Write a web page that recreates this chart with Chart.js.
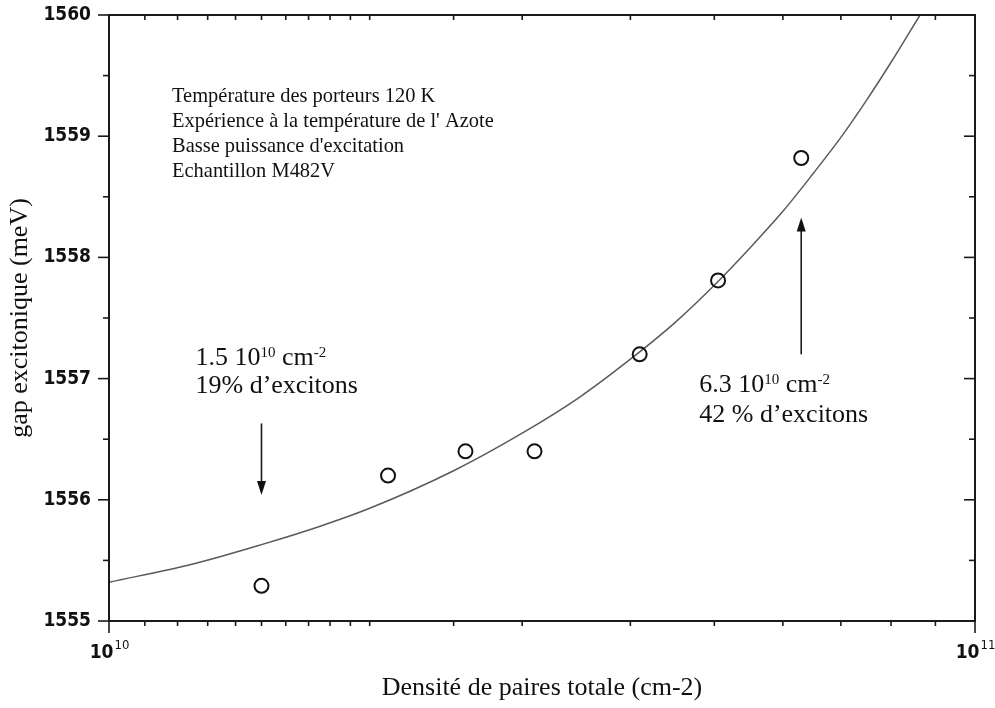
<!DOCTYPE html>
<html>
<head>
<meta charset="utf-8">
<script src="https://cdn.jsdelivr.net/npm/chart.js@4.4.1/dist/chart.umd.min.js"></script>
<style>
  html, body { margin: 0; padding: 0; background: #fff; }
</style>
</head>
<body>
<canvas id="gapChart" width="995" height="708"></canvas>
<script>
// measured points: total pair density (cm-2) vs excitonic gap (meV)
var densite = [1.5e10, 2.1e10, 2.58e10, 3.1e10, 4.1e10, 5.05e10, 6.3e10];
var gap = [1555.29, 1556.2, 1556.4, 1556.4, 1557.2, 1557.81, 1558.82];

// calculated curve
var fitDensite = [1.0e10, 1.25e10, 1.5e10, 1.75e10, 2.0e10, 2.5e10, 3.0e10, 3.5e10, 4.0e10,
                  4.5e10, 5.0e10, 5.5e10, 6.0e10, 6.5e10, 7.0e10, 7.5e10, 8.0e10, 8.64e10];
var fitGap = [1555.32, 1555.47, 1555.63, 1555.78, 1555.93, 1556.24, 1556.55, 1556.85, 1557.16,
              1557.46, 1557.77, 1558.08, 1558.38, 1558.69, 1558.99, 1559.30, 1559.61, 1560.0];

var xDecades = [1e10, 1e11];
var xDecadeExp = ['10', '11'];

var infoLines = [
  'Température des porteurs 120 K',
  "Expérience à la température de l' Azote",
  "Basse puissance d'excitation",
  'Echantillon M482V'
];

// arrows pointing at the two marked densities
var arrowDensite = [1.5e10, 6.3e10];
var arrowTail = [1556.63, 1557.2];
var arrowTip = [1556.04, 1558.33];
var noteText = [
  [[['1.5 10'], ['10', 1], [' cm'], ['-2', 1]], [['19% d’excitons']]],
  [[['6.3 10'], ['10', 1], [' cm'], ['-2', 1]], [['42 % d’excitons']]]
];
var noteBaseline = [[1557.11, 1556.88], [1556.89, 1556.64]];
var noteShift = [-66, -102];

var SERIF = '"Liberation Serif", "Times New Roman", serif';
var NARROW = '"Liberation Sans Narrow", "DejaVu Sans Condensed", "Liberation Sans", sans-serif';

function pts(xs, ys) {
  return xs.map(function (x, i) { return { x: x, y: ys[i] }; });
}

function line(c, x1, y1, x2, y2) {
  c.beginPath(); c.moveTo(x1, y1); c.lineTo(x2, y2); c.stroke();
}

function drawRich(c, parts, x, y) {
  parts.forEach(function (p) {
    c.font = p[1] ? '15px ' + SERIF : '26px ' + SERIF;
    c.fillText(p[0], x, p[1] ? y - 8 : y);
    x += c.measureText(p[0]).width;
  });
}

var framePlugin = {
  id: 'framePlugin',
  afterDraw: function (chart) {
    var c = chart.ctx, a = chart.chartArea;
    var xs = chart.scales.x, ys = chart.scales.y;
    c.save();
    c.strokeStyle = '#1a1a1a';
    c.fillStyle = '#111';

    // box
    c.lineWidth = 2;
    c.strokeRect(a.left, a.top, a.right - a.left, a.bottom - a.top);

    // y ticks: outward on the left, inward on the right
    c.lineWidth = 1.6;
    ys.ticks.forEach(function (t) {
      var y = ys.getPixelForValue(t.value);
      var len = Number.isInteger(t.value) ? 11 : 6;
      line(c, a.left - len, y, a.left, y);
      line(c, a.right - len, y, a.right, y);
    });

    // x ticks: outward at the bottom, inward at the top
    xs.ticks.forEach(function (t) {
      var x = xs.getPixelForValue(t.value);
      var len = xDecades.indexOf(t.value) >= 0 ? 12 : 5;
      line(c, x, a.bottom, x, a.bottom + len);
      line(c, x, a.top, x, a.top + len);
    });

    // decade labels 10^10, 10^11
    c.textBaseline = 'alphabetic';
    xDecades.forEach(function (v, i) {
      var x = xs.getPixelForValue(v);
      c.font = 'bold 19px ' + NARROW;
      var wb = c.measureText('10').width;
      c.font = '13px ' + NARROW;
      var we = c.measureText(xDecadeExp[i]).width;
      var x0 = x - (wb + we) / 2;
      c.font = 'bold 19px ' + NARROW;
      c.fillText('10', x0, a.bottom + 37);
      c.font = '13px ' + NARROW;
      c.fillText(xDecadeExp[i], x0 + wb + 1, a.bottom + 28);
    });

    // info block, slightly condensed
    c.save();
    c.translate(a.left + 63, 0);
    c.scale(0.93, 1);
    c.font = '22px ' + SERIF;
    infoLines.forEach(function (s, i) {
      c.fillText(s, 0, 102 + i * 25);
    });
    c.restore();

    // arrows and notes
    c.lineWidth = 1.6;
    arrowDensite.forEach(function (d, i) {
      var x = xs.getPixelForValue(d);
      var y1 = ys.getPixelForValue(arrowTail[i]);
      var y2 = ys.getPixelForValue(arrowTip[i]);
      var dir = y2 > y1 ? 1 : -1;
      line(c, x, y1, x, y2 - dir * 12);
      c.beginPath();
      c.moveTo(x, y2);
      c.lineTo(x - 4.5, y2 - dir * 14);
      c.lineTo(x + 4.5, y2 - dir * 14);
      c.closePath();
      c.fill();
      noteText[i].forEach(function (parts, k) {
        drawRich(c, parts, x + noteShift[i], ys.getPixelForValue(noteBaseline[i][k]));
      });
    });
    c.restore();
  }
};

var ctx = document.getElementById('gapChart').getContext('2d');
var gapChart = new Chart(ctx, {
  type: 'scatter',
  data: {
    datasets: [{
      type: 'line',
      data: pts(fitDensite, fitGap),
      borderColor: '#5a5a5a',
      borderWidth: 1.5,
      pointRadius: 0,
      cubicInterpolationMode: 'monotone',
      fill: false,
      order: 2
    }, {
      data: pts(densite, gap),
      pointStyle: 'circle',
      pointRadius: 7,
      borderColor: '#111',
      borderWidth: 2,
      backgroundColor: 'rgba(255,255,255,0)',
      order: 1
    }]
  },
  options: {
    responsive: false,
    animation: false,
    events: [],
    layout: { padding: { left: 2, right: 20, top: 15, bottom: 4 } },
    plugins: { legend: { display: false }, tooltip: { enabled: false } },
    scales: {
      x: {
        type: 'logarithmic',
        min: 1e10,
        max: 1e11,
        grid: { display: false, drawTicks: false },
        border: { display: false },
        ticks: { display: false },
        title: {
          display: true,
          text: 'Densité de paires totale (cm-2)',
          color: '#111',
          font: { family: SERIF, size: 26 },
          padding: { top: 0, bottom: 0 }
        },
        afterFit: function (s) { s.height = 83; s.paddingLeft = 0; s.paddingRight = 0; }
      },
      y: {
        min: 1555,
        max: 1560,
        grid: { display: false, drawTicks: false },
        border: { display: false },
        ticks: {
          stepSize: 0.5,
          autoSkip: false,
          padding: 18,
          color: '#111',
          font: { family: NARROW, size: 19, weight: 'bold' },
          callback: function (v) { return Number.isInteger(v) ? String(v) : ''; }
        },
        title: {
          display: true,
          text: 'gap excitonique (meV)',
          color: '#111',
          font: { family: SERIF, size: 26 },
          padding: { top: 3, bottom: 0 }
        },
        afterFit: function (s) { s.width = 107; s.paddingTop = 0; s.paddingBottom = 0; }
      }
    }
  },
  plugins: [framePlugin]
});
</script>
</body>
</html>
